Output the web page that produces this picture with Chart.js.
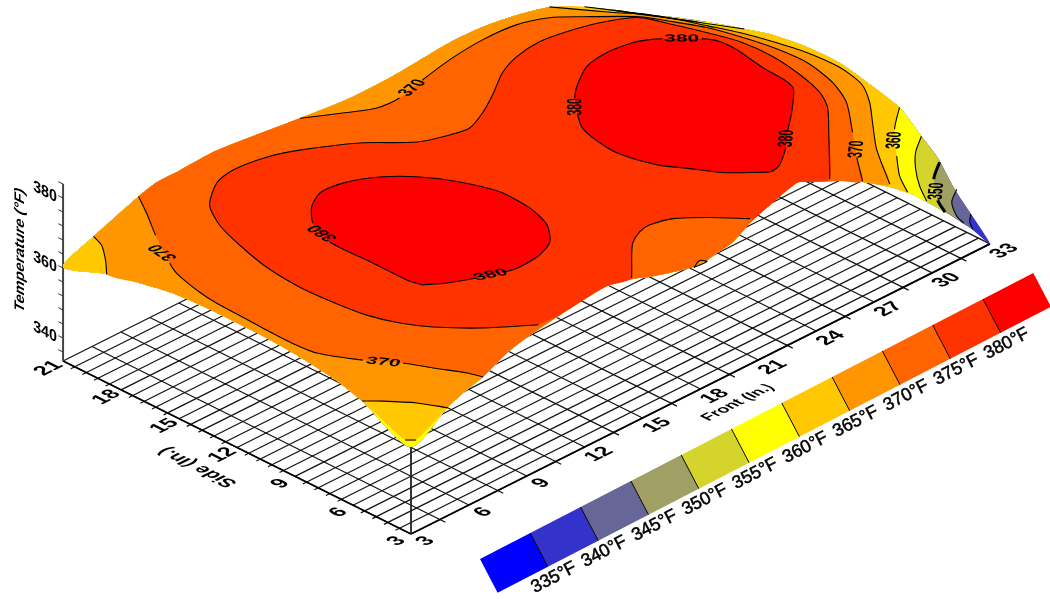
<!DOCTYPE html>
<html>
<head>
<meta charset="utf-8">
<title>Temperature surface</title>
<style>
html, body { margin: 0; padding: 0; background: #fff; }
canvas { display: block; }
</style>
<script src="https://cdn.jsdelivr.net/npm/chart.js@4/dist/chart.umd.min.js"></script>
</head>
<body>
<canvas id="surfaceChart" width="1050" height="601"></canvas>
<script>
// axis ticks
const frontTicks = [3, 6, 9, 12, 15, 18, 21, 24, 27, 30, 33];
const sideTicks = [3, 6, 9, 12, 15, 18, 21];
const tempTicks = [340, 360, 380];

// colour key
const bandColors = ['#0000ff', '#3333cc', '#666699', '#a09f64', '#d5d42c', '#ffff00', '#ffc800', '#ff9500', '#ff6400', '#ff3300', '#ff0000'];
const bandLabels = ['335°F', '340°F', '345°F', '350°F', '355°F', '360°F', '365°F', '370°F', '375°F', '380°F'];

// temperature along the four sides of the surface
const farFront = [3, 4.61, 6.94, 7.87, 9.06, 10.98, 15.28, 17.87, 20.46, 23.05, 24.76, 26.52, 28.23, 30.05, 31.7, 33];
const farTemp = [360.3, 364.7, 369.7, 371.1, 371.2, 371.6, 368.9, 367.5, 367.8, 369.1, 368.8, 367.3, 364.8, 359.8, 354.4, 349.7];
const rightSide = [3, 4.81, 5.74, 6.52, 7.66, 9.05, 10.76, 12.47, 14.23, 15.93, 17.64, 19.4];
const rightTemp = [333.5, 343.9, 350.8, 354.3, 359.5, 361.7, 363.8, 363.7, 362.3, 359.6, 356.6, 353.2];
const nearFront = [3, 4.92, 5.9, 6.73, 7.97, 9.32, 10.72, 12.12, 13.16, 14.5, 15.38, 17.46, 18.23, 18.85, 19.68, 20.72, 23, 23.67, 25.23, 26.42, 27.82, 28.85, 29.74, 30.77, 31.96];
const nearTemp = [358.3, 364.4, 366.6, 368, 371.4, 373.4, 374.7, 375.7, 376.2, 374.5, 372.7, 369.5, 369.1, 369.9, 370.8, 374.2, 378.5, 376.9, 372.9, 369.3, 364, 359.4, 354.4, 348.4, 340.9];
const leftSide = [5.53, 7.04, 8.74, 10.45, 13.04, 15.31, 17.02, 18.73];
const leftTemp = [364.5, 366.9, 368.2, 368.9, 369, 368.4, 366.6, 364.5];

// contours, front and side position in inches
const c340Front = [32.85, 32.41, 32.13];
const c340Side = [3.85, 3.46, 3.03];
const c345Front = [32.88, 32.08, 31.48, 31.3];
const c345Side = [4.6, 4.06, 3.2, 2.66];
const c350Front = [32.93, 31.9, 30.91, 30.47];
const c350Side = [5.54, 4.81, 3.62, 2.8];
const c355Front = [32.9, 31.92, 31.04, 30.26, 29.67];
const c355Side = [6.45, 5.77, 4.89, 3.9, 2.95];
const c355TopFront = [31.55, 31.96, 33.05];
const c355TopSide = [20.88, 20.1, 18.2];
const c360Front = [32.93, 31.66, 30.32, 29.36, 28.73];
const c360Side = [7.61, 6.6, 5.15, 4.04, 3];
const c360TopFront = [30.02, 31.08, 32.17, 32.99];
const c360TopSide = [21, 19.22, 17.2, 15.7];
const c360CornerFront = [3.18, 2.9];
const c360CornerSide = [2.92, 3.2];
const c365Front = [28.2, 29.63, 30.17, 30.77, 31.28, 31.77, 32.16, 32.47, 32.55, 32.24, 31.51, 30.45, 29.25, 27.78];
const c365Side = [21, 18.95, 18.31, 17.2, 15.95, 14.73, 13.41, 11.96, 10.33, 8.88, 7.74, 6.52, 5.12, 2.97];
const c365LeftFront = [4.52, 4.26, 3.58, 2.88];
const c365LeftSide = [20.94, 20.26, 19.38, 18.62];
const c365CornerFront = [2.9, 3.44, 4.22, 4.77];
const c365CornerSide = [5.44, 4.89, 3.91, 2.85];
const c370LowFront = [6.85, 6.18, 5.27, 4.18, 3.84, 3.45, 3.32, 3.27, 3.21, 3.19, 3.32, 4.14, 5.03, 5.54, 6.16, 6.37];
const c370LowSide = [20.94, 19.85, 18.48, 16.66, 15.96, 14.38, 13.37, 11.87, 10.67, 9.46, 8.19, 6.63, 5.44, 4.4, 3.26, 2.64];
const c370UpFront = [15.07, 16.44, 17.58, 18.69, 20.22, 21.96, 23.85, 25.5, 26.72, 27.63, 29.1, 29.7, 30.27, 30.66, 30.95, 31.05, 30.68, 30, 28.6, 27.41, 26.32];
const c370UpSide = [20.8, 19.96, 19.34, 19.26, 19.6, 19.94, 20.12, 20.02, 19.53, 18.72, 17.25, 16.13, 14.94, 13.62, 12.2, 10.54, 8.83, 7.43, 5.72, 4.31, 2.92];
const c370BumpFront = [17.48, 18, 18.13, 17.48];
const c370BumpSide = [2.83, 3.04, 2.8, 2.83];
const c375Front = [9.6, 8, 6.76, 6.11, 5.67, 5.47, 5.39, 5.57, 6.02, 6.54, 7.31, 8.64, 9.73, 11.28, 12.5, 14.42, 15.94, 17.16, 18.04, 19.16, 20.35, 21.75, 22.94, 24.31, 25.53, 26.85, 28.15, 28.64, 29.1, 29.49, 29.57, 29.33, 28.92, 28.34, 27.07, 24.7];
const c375Side = [3, 4.27, 5.62, 6.68, 7.95, 9.5, 11.14, 13.03, 14.87, 16.43, 17.72, 18.69, 18.95, 18.74, 18.25, 17.06, 15.63, 15.14, 14.98, 15.43, 16.1, 16.99, 17.45, 17.63, 17.45, 17.06, 16.29, 15.07, 13.78, 12.45, 10.82, 9.18, 7.73, 6.75, 5.42, 3];
const c375NotchFront = [20.57, 19.51, 18.58, 17.67, 17.05, 16.3, 15.75, 14.43];
const c375NotchSide = [3, 4.18, 5, 5.29, 5.19, 4.8, 4.31, 3];
const c380LowFront = [7.75, 7.62, 7.62, 7.6, 8.14, 8.94, 9.88, 10.99, 12.26, 13.3, 14.07, 14.59, 14.53, 14.1, 13.29, 12.36, 11.21, 10.57, 9.53, 8.5, 7.75];
const c380LowSide = [7.18, 7.83, 9.59, 11.79, 13.2, 14.07, 14.59, 14.51, 13.87, 12.83, 11.53, 9.98, 8.37, 7.05, 6.09, 5.68, 5.57, 5.7, 6.11, 6.63, 7.18];
const c380UpFront = [21.4, 22.03, 23.32, 24.57, 25.76, 26.36, 26.74, 27.75, 28.07, 28.09, 27.83, 27.72, 27.49, 26.25, 25.16, 24.28, 23.24, 22.67, 22.05, 21.35, 20.7, 20.05, 19.64, 19.8, 20.08, 20.6, 21.4];
const c380UpSide = [12.91, 13.43, 14.21, 14.42, 14.26, 13.98, 13.69, 12.68, 12.06, 11.21, 9.6, 8.25, 7.66, 6.52, 5.64, 4.86, 4.13, 3.98, 4.49, 5.19, 6.25, 7.32, 8.97, 10.37, 11.22, 11.95, 12.91];

// labels sitting on the contours
const contourLabels = ['370', '380', '370', '380', '380', '380', '370', '360', '350', '380', '370'];
const contourLabelFront = [4.57, 7.88, 19.55, 20.96, 27.24, 24.77, 27.83, 31.09, 31.35, 10.05, 4.56];
const contourLabelSide = [17.4, 12.44, 19.44, 12.42, 13.2, 5.3, 4.73, 6.03, 4.11, 5.91, 6];
const contourLabelAngle = [80.7, 83.6, 12.1, 45, -45, 42.2, 42, 42, 42, -23.1, -56.3];

const floorTemp = 333.43;

// oblique view of the box, 3 in. corner sits at 411,534
function project(front, side, temp) {
    return {
        x: 411 + 19.3 * (front - 3) - 19.33 * (side - 3),
        y: 534 - 9.67 * (front - 3) - 9.61 * (side - 3) - 3.5 * (temp - floorTemp)
    };
}

function contour(front, side, temp) {
    return front.map((f, i) => project(f, side[i], temp));
}

// walk round the rim of the surface, t runs 0..96
const rim = [];
farFront.forEach((f, i) => rim.push({ t: f - 3, p: project(f, 21, farTemp[i]) }));
for (let i = rightSide.length - 1; i >= 0; i--) rim.push({ t: 51 - rightSide[i], p: project(33, rightSide[i], rightTemp[i]) });
for (let i = nearFront.length - 1; i >= 0; i--) rim.push({ t: 81 - nearFront[i], p: project(nearFront[i], 3, nearTemp[i]) });
leftSide.forEach((s, i) => rim.push({ t: 75 + s, p: project(3, s, leftTemp[i]) }));

function rimRun(from, to) {
    if (from < to) return rim.filter(r => r.t > from && r.t < to).map(r => r.p);
    return rim.filter(r => r.t > from).concat(rim.filter(r => r.t < to)).map(r => r.p);
}

const datasets = [];

function addLine(points, color, width, gaps) {
    datasets.push({
        data: points,
        showLine: true,
        pointRadius: 0,
        borderColor: color,
        borderWidth: width,
        tension: 0,
        fill: false,
        segment: gaps ? { borderColor: ctx => gaps.includes(ctx.p0DataIndex) ? 'rgba(0,0,0,0)' : undefined } : undefined
    });
}

function addRegion(points, color) {
    datasets.push({
        data: points.concat([points[0]]),
        showLine: true,
        pointRadius: 0,
        borderWidth: 0,
        borderColor: color,
        backgroundColor: color,
        tension: 0.25,
        fill: 'shape'
    });
}

function addContour(front, side, temp, gaps, width) {
    const line = contour(front, side, temp);
    addLine(line, '#000', width || 1.1, gaps);
    datasets[datasets.length - 1].tension = 0.25;
}

// floor grid
for (let i = 0; i <= 20; i++) {
    const f = 3 + i * 1.5;
    const reach = i % 2 === 1 ? 2.72 : 3;
    addLine([project(f, reach, floorTemp), project(f, 21, floorTemp)], '#111', 1.2);
}
for (let i = 0; i <= 30; i++) {
    const s = 3 + i * 0.6;
    const reach = i % 5 === 0 ? 3 : 2.8;
    addLine([project(reach, s, floorTemp), project(33, s, floorTemp)], '#111', 1.2);
}
addLine([project(3, 3, floorTemp), project(33, 3, floorTemp)], '#000', 1.8);
addLine([project(3, 3, floorTemp), project(3, 21, floorTemp)], '#000', 1.8);

// upright axes
addLine([project(3, 21, floorTemp), project(3, 21, 384)], '#444', 2);
addLine([project(3, 3, floorTemp), project(3, 3, nearTemp[0])], '#222', 1.8);
for (let t = 336; t <= 384; t += 4) {
    addLine([project(3, 21, t), project(3, 21.25, t)], '#444', 1.1);
}

// filled bands, lowest first, each one painted over the last
addRegion(rimRun(-1, 97), bandColors[1]);
addRegion(contour(c340Front, c340Side, 340).concat(rimRun(48.87, 47.15)), bandColors[2]);
addRegion(contour(c345Front, c345Side, 345).concat(rimRun(49.7, 46.4)), bandColors[3]);
addRegion(contour(c350Front, c350Side, 350).concat(rimRun(50.53, 45.46)), bandColors[4]);
addRegion(contour(c355Front, c355Side, 355).concat(rimRun(51.33, 28.55), contour(c355TopFront, c355TopSide, 355), rimRun(32.8, 44.55)), bandColors[5]);
addRegion(contour(c360Front, c360Side, 360).concat(rimRun(52.27, 77.82), contour(c360CornerFront, c360CornerSide, 360), rimRun(78.2, 27.02), contour(c360TopFront, c360TopSide, 360), rimRun(35.3, 43.39)), bandColors[6]);
addRegion(contour(c365Front, c365Side, 365).concat(rimRun(53.22, 76.23), contour(c365CornerFront, c365CornerSide, 365).reverse(), rimRun(80.44, 93.62), contour(c365LeftFront, c365LeftSide, 365).reverse(), rimRun(1.52, 25.2)), bandColors[7]);
addRegion(contour(c370UpFront, c370UpSide, 370).concat(rimRun(54.68, 74.63), contour(c370LowFront, c370LowSide, 370).reverse(), rimRun(3.85, 12.07)), bandColors[8]);
addRegion(contour(c375Front, c375Side, 375).concat(rimRun(56.3, 60.43), contour(c375NotchFront, c375NotchSide, 375), rimRun(66.57, 71.4)), bandColors[9]);
addRegion(contour(c380LowFront, c380LowSide, 380), bandColors[10]);
addRegion(contour(c380UpFront, c380UpSide, 380), bandColors[10]);
addRegion(contour(c370BumpFront, c370BumpSide, 370), bandColors[7]);

// contour lines, gaps leave room for the labels
addContour(c340Front, c340Side, 340);
addContour(c345Front, c345Side, 345);
addContour(c350Front, c350Side, 350, [1], 3);
addContour(c355Front, c355Side, 355);
addContour(c355TopFront, c355TopSide, 355);
addContour(c360Front, c360Side, 360, [1]);
addContour(c360TopFront, c360TopSide, 360);
addContour(c360CornerFront, c360CornerSide, 360);
addContour(c365Front, c365Side, 365);
addContour(c365LeftFront, c365LeftSide, 365);
addContour(c365CornerFront, c365CornerSide, 365);
addContour(c370LowFront, c370LowSide, 370, [2, 11]);
addContour(c370UpFront, c370UpSide, 370, [3, 18]);
addContour(c370BumpFront, c370BumpSide, 370);
addContour(c375Front, c375Side, 375);
addContour(c375NotchFront, c375NotchSide, 375);
addContour(c380LowFront, c380LowSide, 380, [3, 17]);
addContour(c380UpFront, c380UpSide, 380, [6, 14, 25]);

// colour key along the bottom right
function keyPoint(i, j) {
    return { x: 480 + i * 50.3 + j * 17.6, y: 559 - i * 26 + j * 33.7 };
}
bandColors.forEach((color, i) => {
    addRegion([keyPoint(i, 0), keyPoint(i + 1, 0), keyPoint(i + 1, 1), keyPoint(i, 1)], color);
    datasets[datasets.length - 1].tension = 0;
});
for (let i = 1; i < bandColors.length; i++) {
    addLine([keyPoint(i, 0), keyPoint(i, 1)], '#000', 1);
}

// text lying flat on the surface, so it gets the same shear as the view
function flatText(chart, text, pos, angle, inchPerEm) {
    const ctx = chart.ctx;
    const a = angle * Math.PI / 180;
    const zero = project(3, 3, floorTemp);
    const along = project(3 + Math.cos(a), 3 + Math.sin(a), floorTemp);
    const up = project(3 - Math.sin(a), 3 + Math.cos(a), floorTemp);
    const k = inchPerEm / 10;
    ctx.save();
    ctx.setTransform((along.x - zero.x) * k, (along.y - zero.y) * k, -(up.x - zero.x) * k, -(up.y - zero.y) * k,
        chart.scales.x.getPixelForValue(pos.x), chart.scales.y.getPixelForValue(pos.y));
    ctx.font = 'bold 10px "Liberation Sans"';
    ctx.fillStyle = '#000';
    ctx.textAlign = 'center';
    ctx.textBaseline = 'middle';
    ctx.fillText(text, 0, 0);
    ctx.restore();
}

const textPlugin = {
    id: 'surfaceText',
    afterDatasetsDraw(chart) {
        const ctx = chart.ctx;
        const xs = chart.scales.x;
        const ys = chart.scales.y;
        contourLabels.forEach((label, i) => {
            const pos = project(contourLabelFront[i], contourLabelSide[i], Number(label));
            flatText(chart, label, pos, contourLabelAngle[i], 0.76);
        });
        frontTicks.forEach(f => flatText(chart, String(f), project(f, 2.25, floorTemp), 0, 0.95));
        sideTicks.forEach(s => flatText(chart, String(s), project(2.25, s, floorTemp), 0, 0.95));
        flatText(chart, 'Front (In.)', project(18.26, 1.33, floorTemp), 0, 0.74);
        flatText(chart, 'Side (In.)', project(0.96, 12, floorTemp), 90, 0.88);

        // wall text on the temperature axis
        ctx.save();
        ctx.fillStyle = '#000';
        ctx.textAlign = 'center';
        ctx.textBaseline = 'middle';
        tempTicks.forEach(t => {
            const p = project(3, 21, t);
            ctx.setTransform(0.894, 0.447, 0, 1, xs.getPixelForValue(p.x) - 18, ys.getPixelForValue(p.y) - 6);
            ctx.font = 'bold 16px "Liberation Sans"';
            ctx.fillText(String(t), 0, 0);
        });
        ctx.setTransform(0, -1, 0.894, 0.447, xs.getPixelForValue(20), ys.getPixelForValue(250));
        ctx.font = 'bold 15.5px "Liberation Sans"';
        ctx.fillText('Temperature (°F)', 0, 0);
        ctx.restore();

        // key labels
        ctx.save();
        ctx.fillStyle = '#000';
        ctx.strokeStyle = '#000';
        ctx.lineWidth = 0.5;
        ctx.textAlign = 'center';
        ctx.textBaseline = 'middle';
        ctx.font = '18px "Liberation Sans"';
        bandLabels.forEach((label, i) => {
            const p = keyPoint(i + 1, 1);
            ctx.save();
            ctx.translate(xs.getPixelForValue(p.x + 6), ys.getPixelForValue(p.y + 11));
            ctx.rotate(-27.5 * Math.PI / 180);
            ctx.fillText(label, 0, 0);
            ctx.strokeText(label, 0, 0);
            ctx.restore();
        });
        ctx.restore();
    }
};

// first dataset in the array is drawn last by Chart.js
datasets.reverse();

new Chart(document.getElementById('surfaceChart'), {
    type: 'scatter',
    data: { datasets: datasets },
    options: {
        responsive: false,
        animation: false,
        events: [],
        layout: { padding: 0 },
        scales: {
            x: { type: 'linear', min: 0, max: 1050, display: false },
            y: { type: 'linear', min: 0, max: 601, reverse: true, display: false }
        },
        plugins: { legend: { display: false }, tooltip: { enabled: false } }
    },
    plugins: [textPlugin]
});
</script>
</body>
</html>
